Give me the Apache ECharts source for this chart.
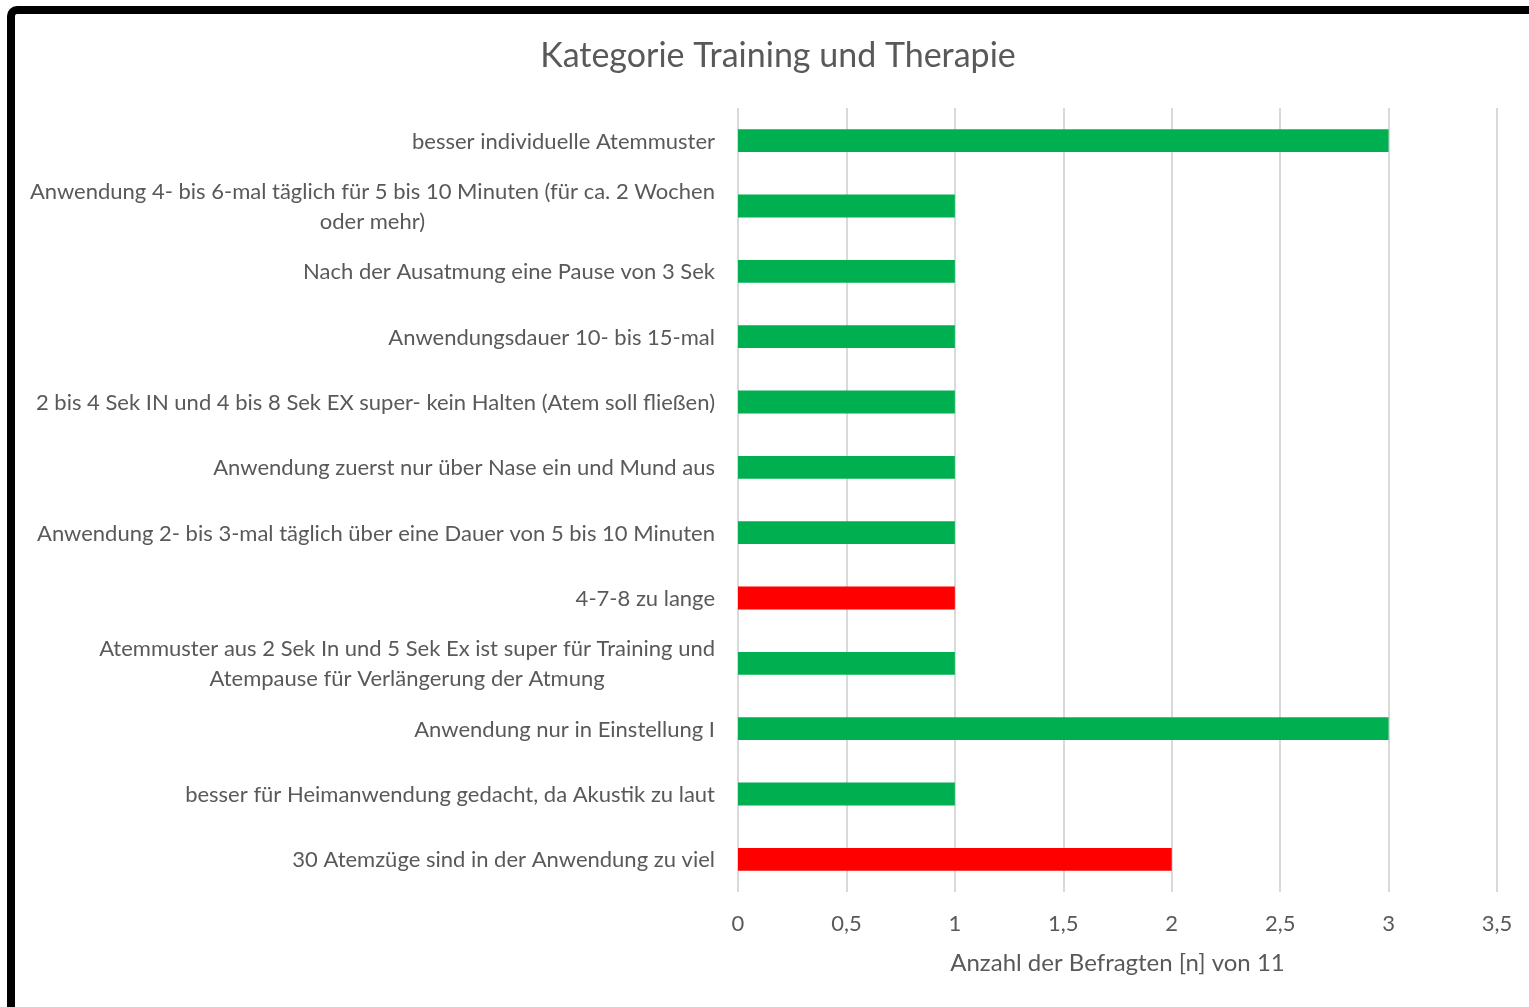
<!DOCTYPE html>
<html>
<head>
<meta charset="utf-8">
<script src="https://cdn.jsdelivr.net/npm/echarts@6/dist/echarts.min.js"></script>
<style>
  html, body { margin: 0; padding: 0; background: #fff; }
  #chart { width: 1529px; height: 1007px; }
</style>
</head>
<body>
<div id="chart"></div>
<script>
// ------------------------------------------------------- //
// Data
// ------------------------------------------------------ //
var categories = [
    'besser individuelle Atemmuster',
    'Anwendung 4- bis 6-mal täglich für 5 bis 10 Minuten (für ca. 2 Wochen\noder mehr)',
    'Nach der Ausatmung eine Pause von 3 Sek',
    'Anwendungsdauer 10- bis 15-mal',
    '2 bis 4 Sek IN und 4 bis 8 Sek EX super- kein Halten (Atem soll fließen)',
    'Anwendung zuerst nur über Nase ein und Mund aus',
    'Anwendung 2- bis 3-mal täglich über eine Dauer von 5 bis 10 Minuten',
    '4-7-8 zu lange',
    'Atemmuster aus 2 Sek In und 5 Sek Ex ist super für Training und\nAtempause für Verlängerung der Atmung',
    'Anwendung nur in Einstellung I',
    'besser für Heimanwendung gedacht, da Akustik zu laut',
    '30 Atemzüge sind in der Anwendung zu viel'
];
var values = [3, 1, 1, 1, 1, 1, 1, 1, 1, 3, 1, 2];
// true = negative remark (red bar)
var negative = [false, false, false, false, false, false, false, true, false, false, false, true];

var green = '#00B050';
var red = '#FF0000';
var textColor = '#595959';
var font = 'Lato';

var chart = echarts.init(document.getElementById('chart'));
var option = {
    animation: false,
    backgroundColor: '#fff',
    textStyle: {fontFamily: font},
    title: {
        text: 'Kategorie Training und Therapie',
        left: 773,
        top: 34,
        textAlign: 'center',
        textStyle: {fontFamily: font, fontSize: 34, fontWeight: 'normal', color: textColor}
    },
    graphic: [{
        type: 'rect',
        shape: {x: 11, y: 10, width: 1700, height: 1200, r: 6},
        style: {fill: 'none', stroke: '#000', lineWidth: 8},
        silent: true
    }],
    grid: {left: 738, right: 32, top: 108, bottom: 115, containLabel: false},
    xAxis: {
        type: 'value',
        min: 0,
        max: 3.5,
        interval: 0.5,
        axisLine: {show: false},
        axisTick: {show: false},
        splitLine: {lineStyle: {color: '#D9D9D9', width: 2}},
        axisLabel: {
            color: textColor, fontSize: 22, margin: 21,
            formatter: function (v) { return String(v).replace('.', ','); }
        },
        name: 'Anzahl der Befragten [n] von 11',
        nameLocation: 'middle',
        nameGap: 59,
        nameTextStyle: {color: textColor, fontSize: 24}
    },
    yAxis: {
        type: 'category',
        inverse: true,
        data: categories,
        axisLine: {show: false},
        axisTick: {show: false},
        axisLabel: {
            color: textColor, fontSize: 22, margin: 23, align: 'right',
            lineHeight: 30, padding: [2, 0, 0, 0],
            // wrapped labels: each line centred inside the block
            formatter: function (v) {
                if (v.indexOf('\n') < 0) return v;
                return v.split('\n').map(function (s) { return '{c|' + s + '}'; }).join('\n');
            },
            rich: {
                c: {align: 'center', color: textColor, fontSize: 22, lineHeight: 30, fontFamily: font}
            }
        }
    },
    series: [{
        type: 'bar',
        barCategoryGap: '65%',
        data: values.map(function (v, i) {
            return {value: v, itemStyle: {color: negative[i] ? red : green}};
        })
    }]
};
chart.setOption(option);
</script>
</body>
</html>
